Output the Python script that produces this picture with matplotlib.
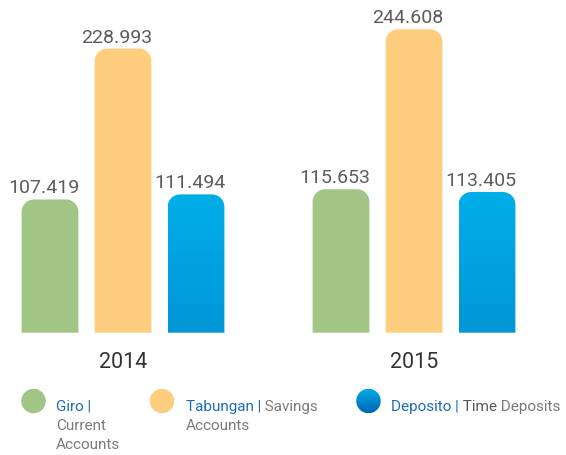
import matplotlib
matplotlib.use('Agg')
import matplotlib.pyplot as plt
import numpy as np
from matplotlib.path import Path
from matplotlib.patches import PathPatch, Circle
from matplotlib.colors import LinearSegmentedColormap

plt.rcParams['font.family'] = ['Roboto', 'DejaVu Sans']

# ── data ─────────────────────────────────────────────────────────────────────
years = ['2014', '2015']
giro = [107.419, 115.653]
tabungan = [228.993, 244.608]
deposito = [111.494, 113.405]
value_labels = [['107.419', '228.993', '111.494'],
                ['115.653', '244.608', '113.405']]

GREEN = '#a0c585'
YELLOW = '#fecd7d'
BLUE_TOP, BLUE_BOT = '#00aee8', '#0096d6'
TXT_BLUE = '#1b6db5'
TXT_GRAY = '#7a7a7a'

W, H = 566, 455
fig = plt.figure(figsize=(W / 100, H / 100), dpi=100)
ax = fig.add_axes([0, 0, 1, 1])
ax.set_xlim(-0.4227, 1.5223)
ax.set_ylim(-98.6, 268.2)
ax.axis('off')

# px -> data scales for corner radius
px_x = (1.5223 + 0.4227) / W
px_y = (268.2 + 98.6) / H
rx, ry = 12.5 * px_x, 12.5 * px_y

offsets = [-0.2509, 0.0, 0.2509]
width = 0.195


def rounded_top(x0, w, h):
    k = 0.5523
    verts = [(x0, 0), (x0, h - ry),
             (x0, h - ry + k * ry), (x0 + rx - k * rx, h), (x0 + rx, h),
             (x0 + w - rx, h),
             (x0 + w - rx + k * rx, h), (x0 + w, h - ry + k * ry), (x0 + w, h - ry),
             (x0 + w, 0), (x0, 0)]
    codes = [Path.MOVETO, Path.LINETO,
             Path.CURVE4, Path.CURVE4, Path.CURVE4,
             Path.LINETO,
             Path.CURVE4, Path.CURVE4, Path.CURVE4,
             Path.LINETO, Path.CLOSEPOLY]
    return Path(verts, codes)


blue_cmap = LinearSegmentedColormap.from_list('b', [BLUE_BOT, BLUE_TOP])

series = [(giro, GREEN), (tabungan, YELLOW), (deposito, None)]
for gi, year in enumerate(years):
    for si, (vals, color) in enumerate(series):
        v = vals[gi]
        x0 = gi + offsets[si] - width / 2
        path = rounded_top(x0, width, v)
        if color is None:
            patch = PathPatch(path, facecolor='none', edgecolor='none')
            ax.add_patch(patch)
            grad = np.linspace(0, 1, 256).reshape(-1, 1)
            im = ax.imshow(grad, cmap=blue_cmap, origin='lower', aspect='auto',
                           extent=[x0, x0 + width, 0, v], zorder=2)
            im.set_clip_path(patch)
        else:
            ax.add_patch(PathPatch(path, facecolor=color, edgecolor='none', zorder=2))
        ax.annotate(value_labels[gi][si], (gi + offsets[si], v),
                    xytext=(-4.3, 4.3), textcoords='offset points',
                    ha='center', va='baseline', fontsize=14, fontweight='normal',
                    color='#5c5c5c')
    ax.annotate(year, (gi, 0), xytext=(0, -25.5), textcoords='offset points',
                ha='center', va='baseline', fontsize=15.5, color='#333333')

ax.set_xlim(-0.4227, 1.5223)
ax.set_ylim(-98.6, 268.2)

# ── legend ───────────────────────────────────────────────────────────────────
legend_cmap = LinearSegmentedColormap.from_list('lb', ['#0064b2', '#00b0ea'])


def legend_dot(cx, cy, color):
    r = 12.5
    lax = fig.add_axes([(cx - r) / W, 1 - (cy + r) / H, 2 * r / W, 2 * r / H])
    lax.set_xlim(-1, 1)
    lax.set_ylim(-1, 1)
    lax.axis('off')
    circ = Circle((0, 0), 0.98, facecolor=color if color else 'none',
                  edgecolor='none')
    lax.add_patch(circ)
    if color is None:
        grad = np.linspace(0, 1, 256).reshape(-1, 1)
        im = lax.imshow(grad, cmap=legend_cmap, origin='lower', aspect='auto',
                        extent=[-1, 1, -1, 1])
        im.set_clip_path(circ)


FS = 11


def ftxt(px, py, s, color, weight='normal'):
    return fig.text(px / W, 1 - py / H, s, color=color, fontsize=FS,
                    fontweight=weight, ha='left', va='baseline')


def chain(prev, s, color, weight='normal'):
    return ax.annotate(s, xy=(1, 0), xycoords=prev, ha='left', va='bottom',
                       color=color, fontsize=FS, fontweight=weight)


legend_dot(33.5, 401, GREEN)
legend_dot(162, 401, YELLOW)
legend_dot(368.5, 401, None)

ftxt(56, 411, 'Giro |', TXT_BLUE)
ftxt(56, 430, 'Current', TXT_GRAY)
ftxt(56, 449, 'Accounts', TXT_GRAY)

t = ftxt(186, 411, 'Tabungan |', TXT_BLUE)
chain(t, ' Savings', TXT_GRAY)
ftxt(186, 430, 'Accounts', TXT_GRAY)

t = ftxt(391, 411, 'Deposito |', TXT_BLUE)
t = chain(t, ' Time', '#555555')
chain(t, ' Deposits', TXT_GRAY)

fig.savefig('out.png', dpi=100)
